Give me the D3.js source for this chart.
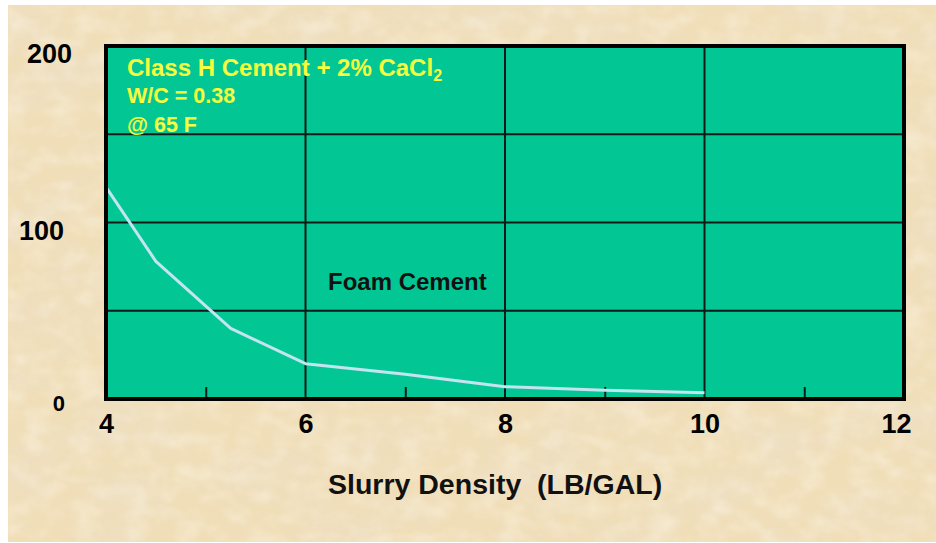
<!DOCTYPE html>
<html>
<head>
<meta charset="utf-8">
<script src="https://cdn.jsdelivr.net/npm/d3@7/dist/d3.min.js"></script>
<style>
  html, body { margin: 0; padding: 0; background: #ffffff; }
  svg { display: block; }
  text { font-family: "Liberation Sans", Arial, Helvetica, sans-serif; font-weight: bold; }
</style>
</head>
<body>
<svg id="chart" width="936" height="543"></svg>
<script>
// Slurry density (lb/gal) and the measured value at each density
const density = [4, 4.5, 5.25, 6, 7, 8, 9, 10];
const values  = [120, 78, 40, 20, 14, 7, 5, 3.5];

// Axis ticks
const xMajorTicks = [4, 6, 8, 10, 12];
const xMinorTicks = [5, 7, 9, 11];
const yGridTicks  = [50, 100, 150];
const yLabelTicks = [0, 100, 200];

// Annotations
const noteLines = ["W/C = 0.38", "@ 65 F"];
const curveLabel = "Foam Cement";
const xTitle = "Slurry Density  (LB/GAL)";

const svg = d3.select("#chart");
const W = 936, H = 543;
const plot = { left: 106, right: 904, top: 46, bottom: 399 };

const x = d3.scaleLinear().domain([4, 12]).range([plot.left, plot.right]);
const y = d3.scaleLinear().domain([0, 200]).range([plot.bottom, plot.top]);

// Parchment background: soft blotches plus a light grain
const defs = svg.append("defs");
const blot = defs.append("filter").attr("id", "blot")
  .attr("x", 0).attr("y", 0).attr("width", "100%").attr("height", "100%");
blot.append("feTurbulence").attr("type", "fractalNoise")
  .attr("baseFrequency", "0.012 0.02").attr("numOctaves", 4).attr("seed", 11).attr("result", "noise");
blot.append("feColorMatrix").attr("in", "noise").attr("type", "matrix")
  .attr("values", "0 0 0 0 0.85  0 0 0 0 0.74  0 0 0 0 0.55  2.4 0 0 0 -0.95");
blot.append("feGaussianBlur").attr("stdDeviation", 1.5);

const grain = defs.append("filter").attr("id", "grain")
  .attr("x", 0).attr("y", 0).attr("width", "100%").attr("height", "100%");
grain.append("feTurbulence").attr("type", "fractalNoise")
  .attr("baseFrequency", "0.04 0.06").attr("numOctaves", 3).attr("seed", 3).attr("result", "noise");
grain.append("feColorMatrix").attr("in", "noise").attr("type", "matrix")
  .attr("values", "0 0 0 0 0.98  0 0 0 0 0.93  0 0 0 0 0.82  2.2 0 0 0 -0.9");
grain.append("feGaussianBlur").attr("stdDeviation", 0.8);

const bg = { x: 8, y: 5, w: W - 8, h: 537 };
svg.append("rect").attr("x", bg.x).attr("y", bg.y).attr("width", bg.w).attr("height", bg.h)
  .attr("fill", "#f0deb8");
svg.append("rect").attr("x", bg.x).attr("y", bg.y).attr("width", bg.w).attr("height", bg.h)
  .attr("filter", "url(#blot)").attr("opacity", 0.75);
svg.append("rect").attr("x", bg.x).attr("y", bg.y).attr("width", bg.w).attr("height", bg.h)
  .attr("filter", "url(#grain)").attr("opacity", 0.4);

// Plot area
svg.append("rect")
  .attr("x", plot.left).attr("y", plot.top)
  .attr("width", plot.right - plot.left).attr("height", plot.bottom - plot.top)
  .attr("fill", "#02c795");

// Grid lines
const grid = svg.append("g").attr("stroke", "#0b1a14").attr("stroke-width", 2);
grid.selectAll("line.h").data(yGridTicks).join("line")
  .attr("x1", plot.left).attr("x2", plot.right)
  .attr("y1", d => y(d)).attr("y2", d => y(d));
grid.selectAll("line.v").data(xMajorTicks.slice(1, -1)).join("line")
  .attr("y1", plot.top).attr("y2", plot.bottom)
  .attr("x1", d => x(d)).attr("x2", d => x(d));

// Minor ticks on the bottom axis
const xAxisMinor = d3.axisBottom(x).tickValues(xMinorTicks).tickSize(-12).tickFormat("");
const gMinor = svg.append("g").attr("transform", `translate(0,${plot.bottom})`).call(xAxisMinor);
gMinor.select(".domain").remove();
gMinor.selectAll(".tick line").attr("stroke", "#0b1a14").attr("stroke-width", 2);

// Data curve
const line = d3.line().x((d, i) => x(density[i])).y(d => y(d));
svg.append("path").datum(values)
  .attr("d", line)
  .attr("fill", "none")
  .attr("stroke", "#c4e4f0")
  .attr("stroke-width", 3)
  .attr("stroke-linejoin", "round");

// Plot frame
svg.append("rect")
  .attr("x", plot.left).attr("y", plot.top)
  .attr("width", plot.right - plot.left).attr("height", plot.bottom - plot.top)
  .attr("fill", "none").attr("stroke", "#000").attr("stroke-width", 4);

// Bottom axis labels
const xAxis = d3.axisBottom(x).tickValues(xMajorTicks).tickSize(0).tickPadding(0).tickFormat(d3.format("d"));
const gx = svg.append("g").attr("transform", `translate(0,${plot.bottom})`).call(xAxis);
gx.select(".domain").remove();
gx.selectAll(".tick text")
  .attr("fill", "#000").attr("font-size", 27).attr("dy", null).attr("y", 34)
  .attr("font-family", "Liberation Sans, Arial, sans-serif").attr("font-weight", "bold")
  .attr("dx", d => d === 12 ? -8 : 0);

// Left axis labels
const yAxis = d3.axisLeft(y).tickValues(yLabelTicks).tickSize(0).tickPadding(0).tickFormat(d3.format("d"));
const gy = svg.append("g").attr("transform", `translate(68,0)`).call(yAxis);
gy.select(".domain").remove();
gy.selectAll(".tick text")
  .attr("fill", "#000").attr("text-anchor", "end")
  .attr("font-family", "Liberation Sans, Arial, sans-serif").attr("font-weight", "bold")
  .attr("font-size", d => d === 0 ? 22 : 27)
  .attr("dy", d => d === 200 ? "0.6em" : d === 0 ? "0.5em" : "0.62em")
  .attr("dx", d => d === 200 ? 4 : d === 0 ? -3 : -4);

// Title inside the plot
const title = svg.append("text")
  .attr("x", 127).attr("y", 76)
  .attr("fill", "#f7ff3c").attr("font-size", 24);
title.append("tspan").text("Class H Cement + 2% CaCl");
title.append("tspan").text("2").attr("font-size", 16).attr("dy", 5);

svg.selectAll("text.note").data(noteLines).join("text")
  .attr("class", "note")
  .attr("x", 127).attr("y", (d, i) => 103 + i * 29)
  .attr("fill", "#f7ff3c").attr("font-size", 21.5)
  .text(d => d);

// Curve label
svg.append("text")
  .attr("x", 328).attr("y", 290)
  .attr("fill", "#111").attr("font-size", 24)
  .text(curveLabel);

// X axis title
svg.append("text")
  .attr("x", 328).attr("y", 494)
  .attr("fill", "#111").attr("font-size", 28.5)
  .style("white-space", "pre")
  .text(xTitle);
</script>
</body>
</html>
